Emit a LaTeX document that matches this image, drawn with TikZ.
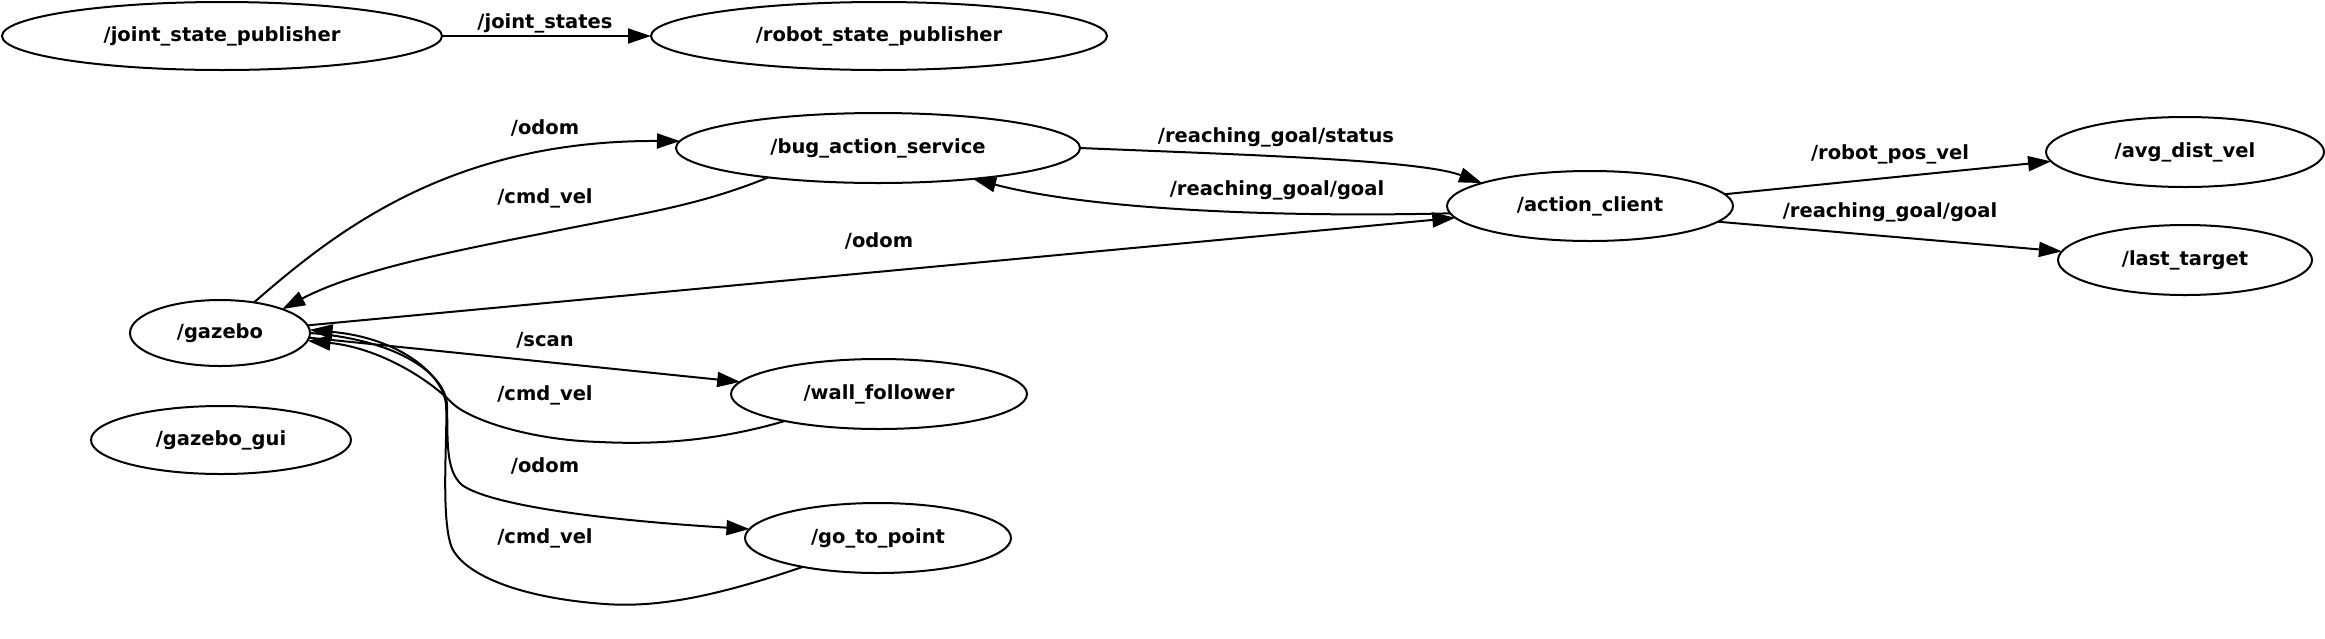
\documentclass[tikz,border=0pt]{standalone}
\usepackage{fontspec}
\setmainfont{DejaVu Sans}
\usetikzlibrary{shapes.geometric,arrows.meta}
\begin{document}
\begin{tikzpicture}[x=1pt,y=-1pt,
  every node/.style={font=\fontsize{19.5}{22}\selectfont\bfseries},
  nd/.style={ellipse,draw,line width=2pt,inner sep=0pt,outer sep=0pt},
  lbl/.style={inner sep=0pt},
  conn/.style={line width=2pt,-{Triangle[length=23pt,width=15pt]}}
]
\useasboundingbox (0,0) rectangle (2325,638);
% nodes
\node[nd,minimum width=440pt,minimum height=68pt] (jsp) at (222,36) {/joint\_state\_publisher};
\node[nd,minimum width=456pt,minimum height=68pt] (rsp) at (879,36) {/robot\_state\_publisher};
\node[nd,minimum width=404pt,minimum height=70pt] (bug) at (878,148) {/bug\_action\_service};
\node[nd,minimum width=286pt,minimum height=70pt] (ac) at (1590,206) {/action\_client};
\node[nd,minimum width=278pt,minimum height=70pt] (adv) at (2185,152) {/avg\_dist\_vel};
\node[nd,minimum width=254pt,minimum height=70pt] (lt) at (2185,260) {/last\_target};
\node[nd,minimum width=180pt,minimum height=66pt] (gz) at (220,333) {/gazebo};
\node[nd,minimum width=260pt,minimum height=68pt] (gzgui) at (221,440) {/gazebo\_gui};
\node[nd,minimum width=296pt,minimum height=70pt] (wf) at (879,394) {/wall\_follower};
\node[nd,minimum width=266pt,minimum height=70pt] (gtp) at (878,538) {/go\_to\_point};
% labels
\node[lbl] (l1) at (545,23) {/joint\_states};
\node[lbl] (l2) at (545,128) {/odom};
\node[lbl] (l3) at (545,198) {/cmd\_vel};
\node[lbl] (l4) at (879,241) {/odom};
\node[lbl] (l5) at (1276,137) {/reaching\_goal/status};
\node[lbl] (l6) at (1277,190) {/reaching\_goal/goal};
\node[lbl] (l7) at (1890,154) {/robot\_pos\_vel};
\node[lbl] (l8) at (1890,212) {/reaching\_goal/goal};
\node[lbl] (l9) at (545,340) {/scan};
\node[lbl] (l10) at (545,395) {/cmd\_vel};
\node[lbl] (l11) at (545,466) {/odom};
\node[lbl] (l12) at (545,538) {/cmd\_vel};
% edges
\draw[conn] (jsp.east) -- (rsp.west);
\draw[conn] (gz.42) .. controls (335,232) and (450,140) .. (bug.178);
\draw[conn] (bug.195) .. controls (700,205) and (650,212) .. (560,230) .. controls (470,248) and (360,268) .. (gz.21);
\draw[conn] (gz.5.6) -- (ac.185);
\draw[conn] (bug.-0.6) .. controls (1250,155) and (1420,160) .. (ac.168);
\draw[conn] (ac.183) .. controls (1300,217) and (1100,212) .. (bug.-18);
\draw[conn] (ac.5.4) -- (adv.184.3);
\draw[conn] (ac.-7.5) -- (lt.176.3);
\draw[conn] (gz.-3) -- (wf.175);
\draw[conn] (wf.196) .. controls (720,440) and (660,445) .. (600,442) .. controls (530,440) and (470,420) .. (452,403) .. controls (430,380) and (380,348) .. (gz.-5);
\draw[conn] (gz.0) .. controls (400,340) and (446,375) .. (447,405) .. controls (448,440) and (445,470) .. (462,485) .. controls (490,505) and (600,520) .. (gtp.176.5);
\draw[conn] (gtp.201.7) .. controls (720,595) and (660,608) .. (605,604) .. controls (520,598) and (465,575) .. (452,548) .. controls (440,520) and (448,430) .. (446,405) .. controls (444,375) and (400,338) .. (gz.2);
\end{tikzpicture}
\end{document}
